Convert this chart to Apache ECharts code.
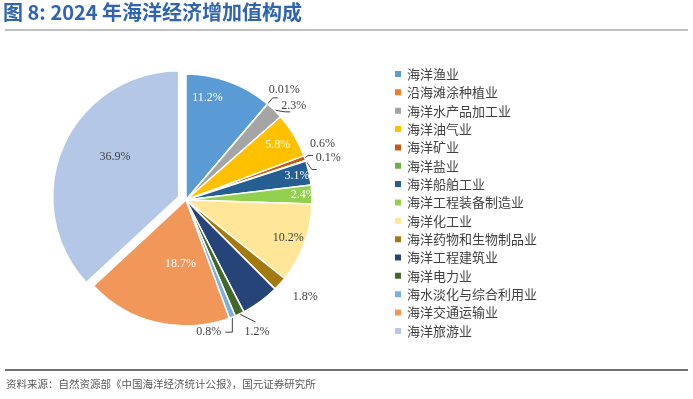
<!DOCTYPE html>
<html>
<head>
<meta charset="utf-8">
<script src="https://cdn.jsdelivr.net/npm/echarts@6/dist/echarts.min.js"></script>
<style>
  html, body { margin: 0; padding: 0; background: #fff; }
  #main { width: 693px; height: 399px; }
</style>
</head>
<body>
<div id="main"></div>
<script>
  // 行业名称
  var categories = ['海洋渔业', '沿海滩涂种植业', '海洋水产品加工业', '海洋油气业', '海洋矿业',
    '海洋盐业', '海洋船舶工业', '海洋工程装备制造业', '海洋化工业', '海洋药物和生物制品业',
    '海洋工程建筑业', '海洋电力业', '海水淡化与综合利用业', '海洋交通运输业', '海洋旅游业']
  // 占比(%)，工程建筑业图中未标注，按合计估算
  var shares = [11.2, 0.01, 2.3, 5.8, 0.6, 0.1, 3.1, 2.4, 10.2, 1.8, 4.9, 1.2, 0.8, 18.7, 36.9]
  var colors = ['#5b9bd5', '#ed7d31', '#a5a5a5', '#ffc000', '#c55a11', '#70ad47', '#255e91',
    '#92d050', '#ffe699', '#a27a10', '#264478', '#43682b', '#7cafdd', '#f1975a', '#b4c7e7']

  var center = [186, 200]
  // 标签放在扇形内侧 / 外侧
  var outsideIdx = [1, 2, 4, 5, 9, 11, 12]
  var hiddenIdx = [10]
  // 内部标签径向外推系数
  var pushOut = { 0: 1.65, 3: 1.62, 6: 1.72, 7: 1.78, 8: 1.65, 14: 1.2 }
  // 额外微调
  var nudge = { 0: [-16, 0], 13: [10, 0], 14: [9, -8], 1: [-14, -8], 2: [-14, -6], 4: [-8, -12], 5: [-6, -12], 9: [-5, 8] }
  var darkLabel = [8, 14]

  var chart = echarts.init(document.getElementById('main'))

  var pieData = categories.map(function (name, i) {
    var item = { name: name, value: shares[i], itemStyle: { color: colors[i] } }
    if (outsideIdx.indexOf(i) >= 0) {
      item.label = { position: 'outside', color: '#404040' }
      item.labelLine = { show: i !== 9, length: 8, length2: 5 }
    } else {
      item.label = { color: darkLabel.indexOf(i) >= 0 ? '#404040' : '#fff' }
    }
    if (hiddenIdx.indexOf(i) >= 0) item.label = { show: false }
    if (i === 14) item.selected = true
    return item
  })

  chart.setOption({
    animation: false,
    title: [{
      text: '图 8: 2024 年海洋经济增加值构成',
      left: 3,
      top: 2,
      padding: 0,
      textStyle: { color: '#2e64b0', fontSize: 20, fontWeight: 'bold', fontFamily: 'Noto Sans CJK SC' }
    }, {
      text: '资料来源：自然资源部《中国海洋经济统计公报》，国元证券研究所',
      left: 6,
      top: 379,
      padding: 0,
      textStyle: { color: '#595959', fontSize: 10.5, fontWeight: 'normal', fontFamily: 'Noto Sans CJK SC' }
    }],
    graphic: [
      { type: 'line', shape: { x1: 5, y1: 30, x2: 688, y2: 30 }, style: { stroke: '#808080', lineWidth: 1 } },
      { type: 'line', shape: { x1: 5, y1: 370, x2: 688, y2: 370 }, style: { stroke: '#404040', lineWidth: 1.5 } }
    ],
    legend: {
      orient: 'vertical',
      left: 388,
      top: 62,
      itemWidth: 8,
      itemHeight: 8,
      itemGap: 4.35,
      icon: 'rect',
      data: categories,
      textStyle: { color: '#404040', fontSize: 13, lineHeight: 14, fontFamily: 'Noto Sans CJK SC' }
    },
    series: [{
      type: 'pie',
      center: center,
      radius: 126,
      startAngle: 90,
      selectedMode: 'single',
      selectedOffset: 8,
      avoidLabelOverlap: true,
      itemStyle: { borderColor: '#fff', borderWidth: 1.5 },
      label: {
        position: 'inside',
        formatter: '{c}%',
        fontSize: 12,
        fontFamily: 'Liberation Serif'
      },
      labelLine: { lineStyle: { color: '#404040', width: 1 } },
      emphasis: { disabled: true },
      labelLayout: function (p) {
        var r = p.labelRect
        var lx = r.x + r.width / 2
        var ly = r.y + r.height / 2
        var pts = p.labelLinePoints
        // 电力业、淡化业：引线从扇形边缘向下引出
        if ((p.dataIndex === 11 || p.dataIndex === 12) && pts) {
          var s = pts[0]
          if (p.dataIndex === 12) {
            var turn = [s[0], s[1] + 15]
            var end = [s[0] - 7, s[1] + 15]
            return {
              dx: end[0] - 4 - r.width / 2 - lx,
              dy: end[1] - ly,
              labelLinePoints: [s, turn, end]
            }
          }
          var e = [s[0] + 16, s[1] + 8]
          return {
            dx: s[0] + 5 + r.width / 2 - lx,
            dy: e[1] + 10 - ly,
            labelLinePoints: [s, [s[0] + 8, s[1] + 4], e]
          }
        }
        var k = pushOut[p.dataIndex] || 1
        var n = nudge[p.dataIndex] || [0, 0]
        return {
          dx: (lx - center[0]) * (k - 1) + n[0],
          dy: (ly - center[1]) * (k - 1) + n[1]
        }
      },
      data: pieData
    }]
  })
</script>
</body>
</html>
